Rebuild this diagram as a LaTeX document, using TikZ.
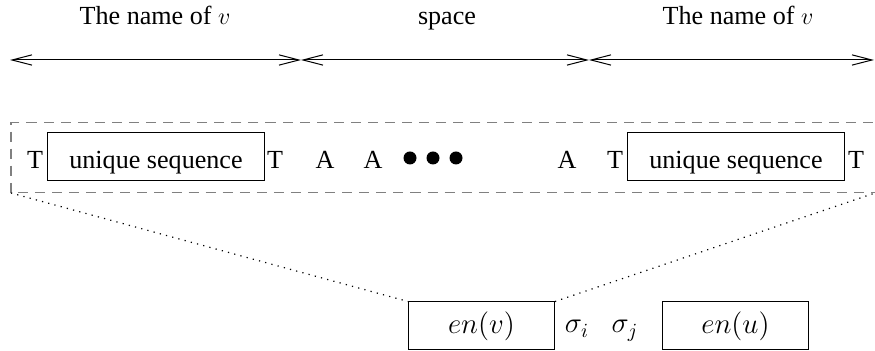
\documentclass[tikz,border=0pt]{standalone}
\usepackage{fontspec}
\setmainfont{Liberation Serif}
\usetikzlibrary{arrows.meta}

\tikzset{
  lbl/.style={font=\fontsize{13}{15}\selectfont, inner sep=0pt, anchor=base},
  mathlbl/.style={font=\fontsize{14.5}{17}\selectfont, inner sep=0pt, anchor=base},
  seqbox/.style={draw, line width=0.5pt, minimum width=3.815cm, inner sep=0pt, text height=0.63cm, text depth=0.21cm, font=\fontsize{13}{15}\selectfont},
  encbox/.style={draw, line width=0.5pt, minimum width=2.555cm, minimum height=0.84cm, inner sep=0pt, font=\fontsize{14.5}{17}\selectfont},
  span/.style={line width=0.5pt, {Straight Barb[length=0.35cm,width=0.18cm]}-{Straight Barb[length=0.35cm,width=0.18cm]}},
  frame/.style={gray, line width=0.5pt, dash pattern=on 5pt off 3.5pt},
  link/.style={line width=0.6pt, dash pattern=on 0.6pt off 2.6pt}
}

\begin{document}
\begin{tikzpicture}[x=0.0175cm, y=-0.0175cm]
  \useasboundingbox (0,0) rectangle (875,351);

  % labels over the name / space / name parts
  \node[lbl] (nameL) at (155,25) {The name of $v$};
  \node[lbl] (gap) at (447,25) {space};
  \node[lbl] (nameR) at (738,25) {The name of $v$};

  \coordinate (p0) at (10,60);
  \coordinate (p1) at (301,60);
  \coordinate (p2) at (589,60);
  \coordinate (p3) at (874,60);
  \draw[span] (p0) -- (p1);
  \draw[span] (p1) -- (p2);
  \draw[span] (p2) -- (p3);

  % the long string, cut off at the right
  \coordinate (frameNW) at (11,123);
  \coordinate (frameSW) at (11,193);
  \coordinate (frameSE) at (875,193);
  \draw[frame] (890,123) -- (frameNW) -- (frameSW) -- (890,193);

  \node[lbl] (t1) at (35,169) {T};
  \node[seqbox] (seqL) at (156,157) {unique sequence};
  \node[lbl] (t2) at (275,169) {T};
  \node[lbl] (aa1) at (325,169) {A};
  \node[lbl] (aa2) at (373,169) {A};
  \foreach \x in {410,433,456}
    \fill (\x,158) circle (6.5);
  \node[lbl] (aa3) at (567,169) {A};
  \node[lbl] (t3) at (615,169) {T};
  \node[seqbox] (seqR) at (736,157) {unique sequence};
  \node[lbl] (t4) at (856,169) {T};

  % the encoding below
  \node[encbox] (env) at (481.5,326) {$en(v)$};
  \node[mathlbl] (si) at (577,333) {$\sigma_i$};
  \node[mathlbl] (sj) at (625,333) {$\sigma_j$};
  \node[encbox] (enu) at (735.5,326) {$en(u)$};

  \draw[link] (frameSW) -- (env.north west);
  \draw[link] (env.north east) -- (frameSE);
\end{tikzpicture}
\end{document}
